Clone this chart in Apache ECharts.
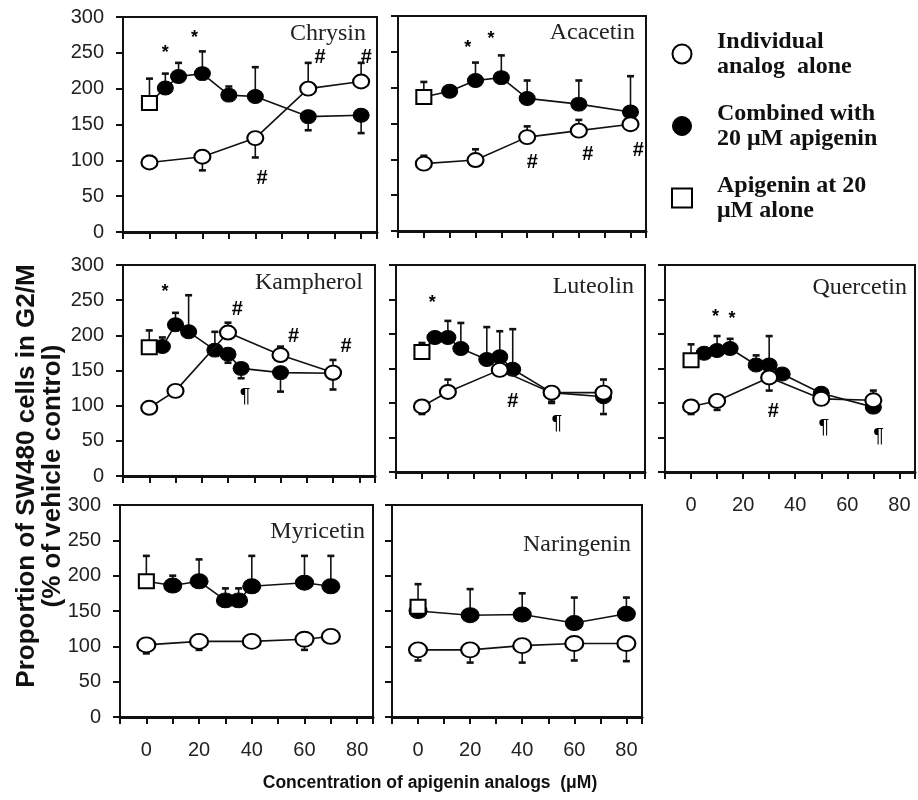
<!DOCTYPE html>
<html><head><meta charset="utf-8">
<script src="https://cdn.jsdelivr.net/npm/echarts@6/dist/echarts.min.js"></script>
<style>html,body{margin:0;padding:0;background:#fff}#c{width:918px;height:800px}</style>
</head><body><div id="c"></div><script>
// ---------- data ----------
const panelNames = ['Chrysin','Acacetin','Kampherol','Luteolin','Quercetin','Myricetin','Naringenin'];
const xTickLabels = [0,20,40,60,80];
const yTickLabels = [0,50,100,150,200,250,300];
const seriesNames = ['Individual\nanalog  alone','Combined with\n20 μM apigenin','Apigenin at 20\nμM alone'];

// analog alone [conc, value]
const chrysinAlone = [[0,97],[20,105],[40,131],[60,200],[80,210]];
const acacetinAlone = [[0,94],[20,99],[40,131],[60,140],[80,149]];
const kampherolAlone = [[0,97],[10,121],[30,204],[50,172],[70,147]];
const luteolinAlone = [[0,95],[10,116],[30,148],[50,115],[70,115]];
const quercetinAlone = [[0,95],[10,103],[30,137],[50,106],[70,104]];
const myricetinAlone = [[0,102],[20,107],[40,107],[60,110],[70,114]];
const naringeninAlone = [[0,95],[20,95],[40,101],[60,104],[80,104]];

// combined with 20 uM apigenin [conc, value]
const chrysinComb = [[6,201],[11,217],[20,221],[30,191],[40,189],[60,161],[80,163]];
const acacetinComb = [[10,195],[20,210],[30,214],[40,185],[60,177],[80,166]];
const kampherolComb = [[5,184],[10,215],[15,205],[25,179],[30,173],[35,153],[50,147],[70,146]];
const luteolinComb = [[5,195],[10,195],[15,179],[25,163],[30,167],[35,149],[50,115],[70,109]];
const quercetinComb = [[5,172],[10,176],[15,179],[25,155],[30,155],[35,142],[50,114],[70,94]];
const myricetinComb = [[10,186],[20,192],[30,165],[35,165],[40,185],[60,190],[70,185]];
const naringeninComb = [[0,150],[20,144],[40,145],[60,133],[80,146]];

// apigenin 20 uM alone [value, error end]
const apigeninAlone = [[180,214],[187,208],[183,207],[174,187],[162,185],[192,228],[156,188]];

// error bars [conc, value, bar end]
const chrysinAloneErr = [[0,97,106],[20,105,86],[40,131,104],[60,200,236],[80,210,236]];
const acacetinAloneErr = [[0,94,105],[20,99,114],[40,131,146],[60,140,155]];
const kampherolAloneErr = [[0,97,89],[30,204,218],[50,172,184],[70,147,165],[70,147,123]];
const luteolinAloneErr = [[0,95,84],[10,116,134],[50,115,100],[50,115,123],[70,115,134]];
const quercetinAloneErr = [[0,95,84],[10,103,90],[30,137,118],[70,104,118]];
const myricetinAloneErr = [[0,102,90],[20,107,95],[60,110,95]];
const naringeninAloneErr = [[0,95,80],[20,95,77],[40,101,77],[60,104,80],[80,104,79]];

const chrysinCombErr = [[6,201,221],[11,217,236],[20,221,252],[30,191,203],[40,189,230],[60,161,142],[80,163,138]];
const acacetinCombErr = [[20,210,235],[30,214,245],[40,185,210],[60,177,210],[80,166,216]];
const kampherolCombErr = [[5,184,197],[10,215,232],[15,205,257],[25,179,205],[30,173,161],[35,153,139],[50,147,120]];
const luteolinCombErr = [[10,195,219],[15,179,216],[25,163,210],[30,167,204],[35,149,207],[50,115,102],[70,109,84]];
const quercetinCombErr = [[10,176,197],[15,179,193],[25,155,169],[30,155,197]];
const myricetinCombErr = [[10,186,200],[20,192,223],[30,165,182],[35,165,182],[40,185,228],[60,190,228],[70,185,228]];
const naringeninCombErr = [[20,144,181],[40,145,175],[60,133,169],[80,146,169]];

// significance marks [conc, value, symbol]
const chrysinMarks = [[6,250,'*'],[17,271,'*'],[42.6,74,'#'],[64.5,244,'#'],[82,244,'#']];
const acacetinMarks = [[17,255,'*'],[26,268,'*'],[42,96,'#'],[63.5,107,'#'],[83,112,'#']];
const kampherolMarks = [[6,262,'*'],[33.5,237,'#'],[55,199,'#'],[75,184,'#'],[36.5,113,'¶']];
const luteolinMarks = [[4,245,'*'],[35,102,'#'],[52,71,'¶']];
const quercetinMarks = [[9.4,225,'*'],[15.7,221,'*'],[31.6,87,'#'],[51,65,'¶'],[72,51,'¶']];
const myricetinMarks = [];
const naringeninMarks = [];

const alones = [chrysinAlone,acacetinAlone,kampherolAlone,luteolinAlone,quercetinAlone,myricetinAlone,naringeninAlone];
const combs = [chrysinComb,acacetinComb,kampherolComb,luteolinComb,quercetinComb,myricetinComb,naringeninComb];
const aloneErrs = [chrysinAloneErr,acacetinAloneErr,kampherolAloneErr,luteolinAloneErr,quercetinAloneErr,myricetinAloneErr,naringeninAloneErr];
const combErrs = [chrysinCombErr,acacetinCombErr,kampherolCombErr,luteolinCombErr,quercetinCombErr,myricetinCombErr,naringeninCombErr];
const marks = [chrysinMarks,acacetinMarks,kampherolMarks,luteolinMarks,quercetinMarks,myricetinMarks,naringeninMarks];

// ---------- layout ----------
const layout = [
  {left:123, top:17, width:254, height:215, yLab:true,  xLab:false, title:{right:552, top:22}, sym:[16,14]},
  {left:398, top:16, width:248, height:215, yLab:false, xLab:false, title:{right:283, top:21}, sym:[16,14]},
  {left:123, top:265, width:252, height:211, yLab:true,  xLab:false, title:{right:555, top:271}, sym:[16,14]},
  {left:396, top:265, width:249, height:207, yLab:false, xLab:false, title:{right:284, top:275}, sym:[16,14]},
  {left:665, top:265, width:251, height:207, yLab:false, xLab:true,  title:{right:11, top:276}, sym:[16,14]},
  {left:120, top:505, width:253, height:212, yLab:true,  xLab:true,  title:{right:553, top:520}, sym:[18,15]},
  {left:392, top:505, width:250, height:212, yLab:false, xLab:true,  title:{right:287, top:533}, sym:[18,15]}
];

const FONT = "'Liberation Sans', Arial, sans-serif";
const SERIF = "'Liberation Serif', 'Times New Roman', serif";

function errRender(params, api) {
  const x = api.value(0), y0 = api.value(1), y1 = api.value(2);
  const p0 = api.coord([x, y0]), p1 = api.coord([x, y1]);
  return {type:'group', children:[
    {type:'line', shape:{x1:p0[0], y1:p0[1], x2:p1[0], y2:p1[1]}, style:{stroke:'#111', lineWidth:1.6}},
    {type:'line', shape:{x1:p1[0]-3.5, y1:p1[1], x2:p1[0]+3.5, y2:p1[1]}, style:{stroke:'#111', lineWidth:2.6}}
  ]};
}

const grid = [], xAxis = [], yAxis = [], series = [], title = [];
layout.forEach((L, i) => {
  grid.push({left:L.left, top:L.top, width:L.width, height:L.height, show:true, borderColor:'#111', borderWidth:2, containLabel:false});
  xAxis.push({type:'value', gridIndex:i, min:-10, max:86, interval:10,
    axisLine:{show:true, onZero:false, lineStyle:{color:'#111', width:3}},
    axisTick:{show:true, inside:false, length:7, lineStyle:{color:'#111', width:2}},
    axisLabel:{show:L.xLab, interval:0, margin:23, fontSize:20, fontFamily:FONT, color:'#222',
      formatter: v => xTickLabels.includes(v) ? String(v) : ''},
    splitLine:{show:false}});
  yAxis.push({type:'value', gridIndex:i, min:0, max:300, interval:50,
    axisLine:{show:true, onZero:false, lineStyle:{color:'#111', width:2}},
    axisTick:{show:true, inside:false, length:7, lineStyle:{color:'#111', width:2}},
    axisLabel:{show:L.yLab, margin:19, fontSize:20, fontFamily:FONT, color:'#222',
      formatter: v => yTickLabels.includes(v) ? String(v) : ''},
    splitLine:{show:false}});
  title.push({text:panelNames[i], right:L.title.right, top:L.title.top, padding:0,
    textStyle:{fontFamily:SERIF, fontWeight:'normal', fontSize:24, color:'#222'}});

  const api = apigeninAlone[i];
  const errData = aloneErrs[i].concat(combErrs[i], [[0, api[0], api[1]]]);
  series.push({type:'custom', xAxisIndex:i, yAxisIndex:i, renderItem:errRender, data:errData, z:1, silent:true});

  const comb = combs[i];
  const hasZero = comb.some(d => d[0] === 0);
  const combData = (hasZero ? [] : [{value:[0, api[0]], symbol:'none'}]).concat(comb);
  series.push({name:seriesNames[1], type:'line', xAxisIndex:i, yAxisIndex:i, data:combData,
    symbol:'circle', symbolSize:L.sym, showSymbol:true,
    itemStyle:{color:'#000', borderColor:'#000', borderWidth:1, opacity:1},
    lineStyle:{color:'#111', width:1.6}, z:2, silent:true});
  series.push({name:seriesNames[0], type:'line', xAxisIndex:i, yAxisIndex:i, data:alones[i],
    symbol:'circle', symbolSize:L.sym, showSymbol:true,
    itemStyle:{color:'#fff', borderColor:'#000', borderWidth:2, opacity:1},
    lineStyle:{color:'#111', width:1.6}, z:3, silent:true});
  series.push({name:seriesNames[2], type:'scatter', xAxisIndex:i, yAxisIndex:i, data:[[0, api[0]]],
    symbol:'rect', symbolSize:[15,14],
    itemStyle:{color:'#fff', borderColor:'#000', borderWidth:2, opacity:1}, z:4, silent:true});
  if (marks[i].length) {
    series.push({type:'scatter', xAxisIndex:i, yAxisIndex:i, data:marks[i], symbolSize:1,
      itemStyle:{color:'rgba(0,0,0,0)', opacity:1}, z:5, silent:true,
      label:{show:true, position:'inside', color:'#000', opacity:1,
        formatter: p => {const s = p.value[2]; return s === '*' ? '{s|*}' : (s === '#' ? '{h|#}' : '{p|¶}');},
        rich:{
          s:{fontSize:18, fontWeight:'bold', fontFamily:FONT, color:'#000'},
          h:{fontSize:20, fontWeight:'bold', fontFamily:FONT, color:'#000'},
          p:{fontSize:20, fontFamily:FONT, color:'#000'}
        }}});
  }
});

const option = {
  animation:false,
  backgroundColor:'#fff',
  grid, xAxis, yAxis, series, title,
  legend:{
    orient:'vertical', left:671, top:29, padding:0, itemGap:22, itemWidth:20, itemHeight:19,
    selectedMode:false,
    textStyle:{fontFamily:SERIF, fontWeight:'bold', fontSize:24, lineHeight:25, color:'#111', padding:[0,0,0,20]},
    data:[
      {name:seriesNames[0], icon:'circle', itemStyle:{color:'#fff', borderColor:'#000', borderWidth:2, opacity:1}},
      {name:seriesNames[1], icon:'circle', itemStyle:{color:'#000', borderColor:'#000', borderWidth:1, opacity:1}},
      {name:seriesNames[2], icon:'rect', itemStyle:{color:'#fff', borderColor:'#000', borderWidth:2, opacity:1}}
    ]
  },
  graphic:[
    {type:'text', x:27, y:476, rotation:Math.PI/2,
      style:{text:'Proportion of SW480 cells in G2/M', font:"bold 26px 'Liberation Sans', Arial, sans-serif",
        fill:'#111', textAlign:'center', textVerticalAlign:'middle', align:'center', verticalAlign:'middle'}},
    {type:'text', x:53, y:476, rotation:Math.PI/2,
      style:{text:'(% of vehicle control)', font:"bold 26px 'Liberation Sans', Arial, sans-serif",
        fill:'#111', textAlign:'center', textVerticalAlign:'middle', align:'center', verticalAlign:'middle'}},
    {type:'text', x:430, y:783,
      style:{text:'Concentration of apigenin analogs  (μM)', font:"bold 17.5px 'Liberation Sans', Arial, sans-serif",
        fill:'#111', textAlign:'center', textVerticalAlign:'middle', align:'center', verticalAlign:'middle'}}
  ]
};
echarts.init(document.getElementById('c'), null, {renderer:'canvas'}).setOption(option);
</script></body></html>
